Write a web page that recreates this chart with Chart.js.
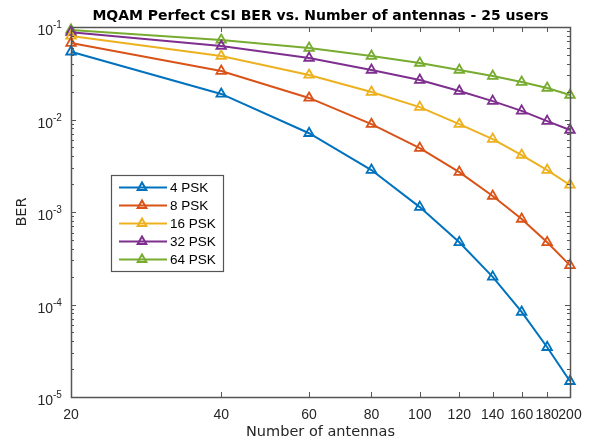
<!DOCTYPE html>
<html>
<head>
<meta charset="utf-8">
<script src="https://cdn.jsdelivr.net/npm/chart.js@4/dist/chart.umd.min.js"></script>
<style>
  html, body { margin: 0; padding: 0; background: #fff; }
  #wrap { width: 589px; height: 441px; position: relative; }
</style>
</head>
<body>
<div id="wrap"><canvas id="berChart"></canvas></div>
<script>
// number of antennas
const antennas = [20, 40, 60, 80, 100, 120, 140, 160, 180, 200];

// BER per modulation
const psk4  = [0.054, 0.0189, 0.0071, 0.00284, 0.00113, 0.00047, 0.000199, 0.000083, 0.0000345, 0.0000148];
const psk8  = [0.067, 0.0334, 0.0171, 0.0089, 0.0049, 0.0027, 0.00149, 0.00084, 0.00047, 0.000265];
const psk16 = [0.080, 0.0486, 0.0303, 0.0198, 0.0136, 0.0089, 0.00615, 0.00413, 0.00284, 0.00196];
const psk32 = [0.088, 0.0623, 0.0462, 0.0343, 0.0267, 0.0203, 0.0158, 0.0124, 0.0096, 0.0077];
const psk64 = [0.093, 0.0724, 0.0593, 0.0486, 0.0408, 0.0343, 0.0295, 0.0254, 0.0219, 0.0184];

const seriesLabels = ['4 PSK', '8 PSK', '16 PSK', '32 PSK', '64 PSK'];
const seriesColors = ['#0072BD', '#D95319', '#EDB120', '#7E2F8E', '#77AC30'];
const seriesData = [psk4, psk8, psk16, psk32, psk64];

// y axis decades (labels are 10^exp)
const yDecades = [-5, -4, -3, -2, -1];

const FONT = "'Liberation Sans', Arial, sans-serif";
const WIDE = "'DejaVu Sans', sans-serif";
const AXIS_COLOR = '#262626';
const BOX_COLOR = '#555555';

function isDecade(v) {
    const e = Math.log10(v);
    return Math.abs(e - Math.round(e)) < 1e-6;
}

// draws the box, inward ticks, 10^n labels and the legend like matlab does
const matlabAxes = {
    id: 'matlabAxes',
    afterDatasetsDraw(chart) {
        const ctx = chart.ctx;
        const a = chart.chartArea;
        const xs = chart.scales.x;
        const ys = chart.scales.y;
        ctx.save();
        ctx.strokeStyle = BOX_COLOR;
        ctx.lineWidth = 1;

        ctx.beginPath();
        xs.ticks.forEach(t => {
            const px = Math.round(xs.getPixelForValue(t.value)) + 0.5;
            ctx.moveTo(px, a.bottom); ctx.lineTo(px, a.bottom - 5);
            ctx.moveTo(px, a.top); ctx.lineTo(px, a.top + 5);
        });
        ys.ticks.forEach(t => {
            const py = Math.round(ys.getPixelForValue(t.value)) + 0.5;
            const len = isDecade(t.value) ? 5 : 3;
            ctx.moveTo(a.left, py); ctx.lineTo(a.left + len, py);
            ctx.moveTo(a.right, py); ctx.lineTo(a.right - len, py);
        });
        ctx.stroke();

        ctx.lineWidth = 1.5;
        ctx.strokeRect(Math.round(a.left) + 0.5, Math.round(a.top) + 0.5,
            Math.round(a.right - a.left), Math.round(a.bottom - a.top));

        // y tick labels: "10" with a raised exponent
        ctx.fillStyle = AXIS_COLOR;
        ctx.textBaseline = 'alphabetic';
        ys.ticks.forEach(t => {
            if (!isDecade(t.value)) return;
            const py = ys.getPixelForValue(t.value);
            const exp = String(Math.round(Math.log10(t.value)));
            ctx.font = '10px ' + FONT;
            ctx.textAlign = 'left';
            ctx.fillText(exp, a.left - 18, py + 1);
            ctx.font = '14px ' + FONT;
            ctx.textAlign = 'right';
            ctx.fillText('10', a.left - 18, py + 8);
        });

        // legend
        const lx = 111, ly = 175, lw = 112, lh = 96;
        ctx.fillStyle = '#fff';
        ctx.fillRect(lx, ly, lw, lh);
        ctx.lineWidth = 1.2;
        ctx.strokeStyle = BOX_COLOR;
        ctx.strokeRect(lx + 0.5, ly + 0.5, lw, lh);
        chart.data.datasets.forEach((ds, i) => {
            const y = ly + 12.5 + i * 18;
            ctx.strokeStyle = ds.borderColor;
            ctx.lineWidth = 2;
            ctx.beginPath();
            ctx.moveTo(119, y); ctx.lineTo(167, y);
            ctx.stroke();
            ctx.fillStyle = 'rgba(0,0,0,0)';
            Chart.helpers.drawPoint(ctx, { pointStyle: 'triangle', radius: 5, rotation: 0, borderWidth: 1.8 }, 142, y);
            ctx.fillStyle = '#000';
            ctx.font = '13.5px ' + FONT;
            ctx.textBaseline = 'middle';
            ctx.textAlign = 'left';
            ctx.fillText(ds.label, 170, y + 1);
        });
        ctx.restore();
    }
};

const ctx = document.getElementById('berChart').getContext('2d');
new Chart(ctx, {
    type: 'line',
    data: {
        datasets: seriesData.map((vals, i) => ({
            label: seriesLabels[i],
            data: antennas.map((n, j) => ({ x: n, y: vals[j] })),
            borderColor: seriesColors[i],
            backgroundColor: 'rgba(0,0,0,0)',
            borderWidth: 2,
            pointStyle: 'triangle',
            pointRadius: 5.5,
            pointBorderWidth: 1.8,
            pointBackgroundColor: 'rgba(0,0,0,0)',
            tension: 0,
            clip: false
        }))
    },
    options: {
        responsive: true,
        maintainAspectRatio: false,
        animation: false,
        layout: { padding: { left: 0, right: 19, top: 0, bottom: 0 } },
        plugins: {
            legend: { display: false },
            tooltip: { enabled: false },
            title: {
                display: true,
                text: 'MQAM Perfect CSI BER vs. Number of antennas - 25 users',
                color: '#000',
                fullSize: false,
                font: { family: WIDE, size: 14, weight: 'bold' },
                padding: { top: 8, bottom: 2.2 }
            }
        },
        scales: {
            x: {
                type: 'logarithmic',
                min: 20,
                max: 200,
                afterBuildTicks: s => { s.ticks = antennas.map(v => ({ value: v })); },
                afterFit: s => { s.height = 44; },
                grid: { display: false },
                border: { display: false },
                ticks: {
                    autoSkip: false,
                    maxRotation: 0,
                    padding: 2,
                    color: AXIS_COLOR,
                    font: { family: FONT, size: 14 },
                    callback: v => String(v)
                },
                title: {
                    display: true,
                    text: 'Number of antennas',
                    color: AXIS_COLOR,
                    font: { family: WIDE, size: 14.5 },
                    padding: { top: 0, bottom: 0 }
                }
            },
            y: {
                type: 'logarithmic',
                min: 1e-5,
                max: 1e-1,
                afterBuildTicks: s => {
                    const t = [];
                    yDecades.forEach(d => {
                        for (let m = 1; m < 10; m++) {
                            if (d === -1 && m > 1) break;
                            t.push({ value: m * Math.pow(10, d) });
                        }
                    });
                    s.ticks = t;
                },
                afterFit: s => { s.width = 71; },
                grid: { display: false },
                border: { display: false },
                ticks: { display: false, autoSkip: false },
                title: {
                    display: true,
                    text: 'BER',
                    color: AXIS_COLOR,
                    font: { family: WIDE, size: 14.5 },
                    padding: { top: 14, bottom: 0 }
                }
            }
        }
    },
    plugins: [matlabAxes]
});
</script>
</body>
</html>
